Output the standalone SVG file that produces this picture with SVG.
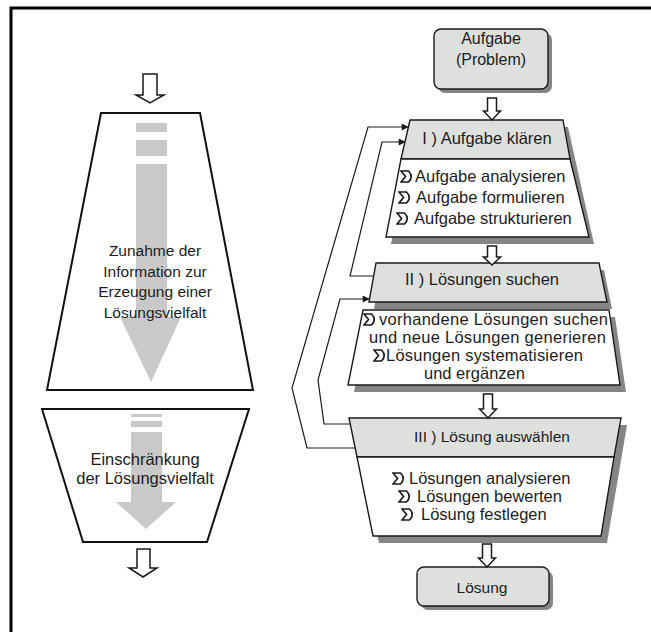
<svg xmlns="http://www.w3.org/2000/svg" width="651" height="632" viewBox="0 0 651 632">
<defs>
<style>
text{font-family:"Liberation Sans",Arial,sans-serif;fill:#1c1c1c;}
.t{font-size:16.5px;}
.tl{font-size:15.5px;}
.hd{fill:#dde0dd;stroke:#1a1a1a;stroke-width:1.4;}
.bd{fill:#ffffff;stroke:#1a1a1a;stroke-width:1.4;}
.sh{fill:#858585;}
.ga{fill:#c9c9c9;}
.ho{fill:#ffffff;stroke:#1a1a1a;stroke-width:1.5;stroke-linejoin:miter;}
.fb{fill:none;stroke:#1a1a1a;stroke-width:1.2;}
.tz{fill:#ffffff;stroke:#111;stroke-width:2;}
</style>
<symbol id="bul" viewBox="0 0 14 13"><path d="M1,1 H8.5 Q14,6.5 8.5,12 H1 L5.5,6.5 Z" fill="none" stroke="#1a1a1a" stroke-width="1.7"/></symbol>
<marker id="ah" viewBox="0 0 10 10" refX="9" refY="5" markerWidth="8" markerHeight="7" markerUnits="userSpaceOnUse" orient="auto"><path d="M0,0 L10,5 L0,10 Z" fill="#1a1a1a"/></marker>
</defs>
<rect x="0" y="0" width="651" height="632" fill="#ffffff"/>
<path d="M11,632 V8 H651" fill="none" stroke="#000" stroke-width="3"/>

<g id="left-upper">
<path d="M143,74 H157 V95 H164 L150,103 L136,95 H143 Z" class="ho"/>
<path d="M101,113 H200 L253,390 H47 Z" class="tz"/>
<rect x="136" y="123" width="31" height="9" class="ga"/>
<rect x="136" y="140" width="31" height="16" class="ga"/>
<path d="M136,164 H167 V317 H181 L151,382 L120,317 H136 Z" class="ga"/>
<text class="tl" x="155" y="256" text-anchor="middle">Zunahme der</text>
<text class="tl" x="155" y="277" text-anchor="middle">Information zur</text>
<text class="tl" x="155" y="297" text-anchor="middle">Erzeugung einer</text>
<text class="tl" x="155" y="318" text-anchor="middle">Lösungsvielfalt</text>
</g>

<g id="left-lower">
<path d="M42,409 H249 L207,542 H83 Z" class="tz"/>
<rect x="131" y="414" width="31" height="3" class="ga"/>
<rect x="131" y="421" width="31" height="6" class="ga"/>
<path d="M131,432 H162 V502 H176 L146,529 L116,502 H131 Z" class="ga"/>
<text class="t" x="145" y="465" text-anchor="middle">Einschränkung</text>
<text class="t" x="145" y="484" text-anchor="middle">der Lösungsvielfalt</text>
<path d="M137,549 H150 V568 H157 L143,577 L129,568 H137 Z" class="ho"/>
</g>

<g id="aufgabe">
<rect x="438" y="33" width="114" height="60" rx="7" class="sh"/>
<rect x="434" y="29" width="114" height="60" rx="7" class="hd"/>
<text x="491" y="44" text-anchor="middle" font-size="16">Aufgabe</text>
<text x="491" y="65" text-anchor="middle" font-size="16">(Problem)</text>
</g>

<g id="step1">
<path d="M415,127 H568 L594,244 H391 Z" class="sh"/>
<path d="M410,120 H563 L570,159 H401 Z" class="hd"/>
<path d="M401,159 H570 L589,237 H386 Z" class="bd"/>
<text class="t" x="487" y="144" text-anchor="middle">I ) Aufgabe klären</text>
<use href="#bul" x="400" y="170" width="14" height="13"/>
<text class="t" x="415" y="182">Aufgabe analysieren</text>
<use href="#bul" x="398" y="191" width="14" height="13"/>
<text class="t" x="416" y="203">Aufgabe formulieren</text>
<use href="#bul" x="396" y="212" width="14" height="13"/>
<text class="t" x="414" y="224">Aufgabe strukturieren</text>
</g>

<g id="step2">
<path d="M381,270 H604 L612,309 H374 Z" class="sh"/>
<path d="M376,263 H599 L607,302 H369 Z" class="hd"/>
<path d="M369,317 H615 L626,392 H354 Z" class="sh"/>
<path d="M363,310 H609 L620,385 H348 Z" class="bd"/>
<text class="t" x="482" y="285" text-anchor="middle">II ) Lösungen suchen</text>
<use href="#bul" x="363" y="313" width="14" height="13"/>
<text class="t" x="379" y="325" textLength="229">vorhandene Lösungen suchen</text>
<text class="t" x="369" y="343" textLength="237">und neue Lösungen generieren</text>
<use href="#bul" x="373" y="349" width="14" height="13"/>
<text class="t" x="386" y="361" textLength="197">Lösungen systematisieren</text>
<text class="t" x="424" y="379">und ergänzen</text>
</g>

<g id="step3">
<path d="M355,425 H627 L607,543 H379 Z" class="sh"/>
<path d="M349,418 H621 L614,457 H357 Z" class="hd"/>
<path d="M357,457 H614 L601,536 H373 Z" class="bd"/>
<text x="492" y="442" text-anchor="middle" font-size="15.5">III ) Lösung auswählen</text>
<use href="#bul" x="392" y="472" width="14" height="13"/>
<text class="t" x="409" y="484">Lösungen analysieren</text>
<use href="#bul" x="398" y="490" width="14" height="13"/>
<text class="t" x="417" y="502">Lösungen bewerten</text>
<use href="#bul" x="401" y="508" width="14" height="13"/>
<text class="t" x="421" y="520">Lösung festlegen</text>
</g>

<g id="loesung">
<rect x="421" y="571" width="132" height="39" rx="7" class="sh"/>
<rect x="417" y="567" width="132" height="39" rx="7" class="hd"/>
<text x="482" y="593" text-anchor="middle" font-size="15.5">Lösung</text>
</g>

<g id="connectors">
<path d="M487.5,98 H496.5 V111 H500.5 L492,120 L483.5,111 H487.5 Z" class="ho"/>
<path d="M487.5,246 H496.5 V257 H500.5 L492,265 L483.5,257 H487.5 Z" class="ho"/>
<path d="M483.5,394 H492.5 V409 H496.5 L488,418 L479.5,409 H483.5 Z" class="ho"/>
<path d="M482.5,544 H491.5 V558 H495.5 L487,567 L478.5,558 H482.5 Z" class="ho"/>
<path d="M355,448 H307 L292,388 L368,127 H408" class="fb" marker-end="url(#ah)"/>
<path d="M374,276 H350 L382,142 H405" class="fb" marker-end="url(#ah)"/>
<path d="M350,424 H324 L318,380 L340,299 H369" class="fb" marker-end="url(#ah)"/>
</g>
</svg>
